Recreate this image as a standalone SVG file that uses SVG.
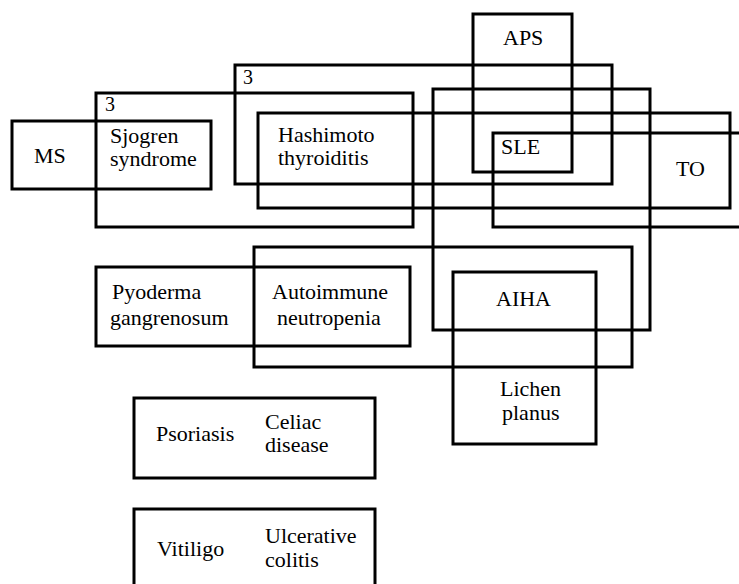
<svg xmlns="http://www.w3.org/2000/svg" width="739" height="584" viewBox="0 0 739 584">
<style>
rect{fill:none;stroke:#000;stroke-width:3}
.t{font-family:'Liberation Serif','DejaVu Serif','Times New Roman',serif;font-size:22px;fill:#000}
</style>
<rect x="0" y="0" width="739" height="584" style="fill:#fff;stroke:none"/>
<g class="t" font-family="Liberation Serif, DejaVu Serif, serif">
<g id="set-sjogren-3">
<rect x="96" y="93" width="317" height="134"/>
<text x="105" y="111" font-size="20">3</text>
</g>
<g id="set-hashimoto-3">
<rect x="235" y="65" width="377" height="119"/>
<text x="243" y="84" font-size="20">3</text>
</g>
<g id="ms">
<rect x="12" y="121" width="199" height="68"/>
<text x="34" y="163">MS</text>
</g>
<g id="sjogren">
<text x="110" y="143">Sjogren</text>
<text x="110" y="166">syndrome</text>
</g>
<g id="hashimoto">
<rect x="258" y="113" width="472" height="95"/>
<text x="278" y="142">Hashimoto</text>
<text x="278" y="165">thyroiditis</text>
</g>
<g id="aps">
<rect x="473" y="14" width="99" height="158"/>
<text x="503" y="45">APS</text>
</g>
<g id="sle">
<rect x="493" y="133" width="260" height="94"/>
<text x="501" y="154">SLE</text>
</g>
<g id="to">
<text x="676" y="176">TO</text>
</g>
<g id="set-aiha">
<rect x="433" y="89" width="217" height="241"/>
</g>
<g id="pyoderma">
<rect x="96" y="267" width="314" height="79"/>
<text x="112" y="299">Pyoderma</text>
<text x="110" y="325">gangrenosum</text>
</g>
<g id="autoimmune-neutropenia">
<rect x="254" y="247" width="378" height="120"/>
<text x="272" y="299">Autoimmune</text>
<text x="277" y="325">neutropenia</text>
</g>
<g id="aiha">
<rect x="453" y="272" width="143" height="172"/>
<text x="496" y="306">AIHA</text>
</g>
<g id="lichen-planus">
<text x="500" y="396">Lichen</text>
<text x="502" y="420">planus</text>
</g>
<g id="psoriasis-celiac">
<rect x="134" y="398" width="241" height="80"/>
<text x="156" y="441">Psoriasis</text>
<text x="265" y="429">Celiac</text>
<text x="265" y="452">disease</text>
</g>
<g id="vitiligo-uc">
<rect x="134" y="509" width="241" height="90"/>
<text x="157" y="556">Vitiligo</text>
<text x="265" y="543">Ulcerative</text>
<text x="265" y="567">colitis</text>
</g>
</g>
<g id="connectors"/>
</svg>
